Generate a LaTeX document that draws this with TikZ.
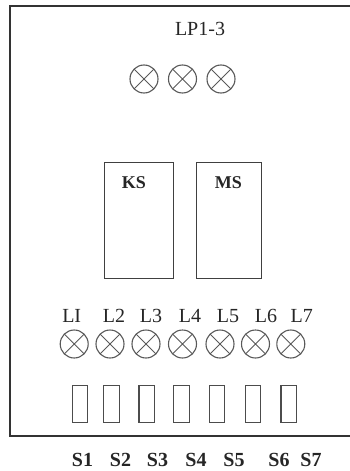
\documentclass[tikz,border=0pt]{standalone}
\usepackage{fontspec}
\setmainfont{Liberation Serif}
\begin{document}
\begin{tikzpicture}[x=1pt,y=-1pt,
  lamp/.style={circle,draw=black!65,line width=1.1pt,minimum size=28pt,inner sep=0pt,
    path picture={\draw[black!65,line width=0.9pt]
      (path picture bounding box.north west)--(path picture bounding box.south east)
      (path picture bounding box.north east)--(path picture bounding box.south west);}},
  switchbox/.style={rectangle,draw=black!70,line width=1.1pt,minimum width=15.5pt,minimum height=37pt,inner sep=0pt},
  unitbox/.style={rectangle,draw=black!75,line width=1pt,inner sep=0pt},
  lab/.style={anchor=base,inner sep=0pt,font=\fontsize{20}{24}\selectfont,text=black!85},
  blab/.style={lab,font=\fontsize{20}{24}\selectfont\bfseries},
  klab/.style={lab,font=\fontsize{18}{22}\selectfont\bfseries}]
\useasboundingbox (0,0) rectangle (350,471);
% outer frame (runs off the right edge)
\draw[black!80,line width=1.4pt] (360,6) -- (10,6) -- (10,436) -- (360,436);
% title
\node[lab] (title) at (200,35.7) {LP1-3};
% top lamps
\node[lamp] (lp1) at (144,79) {};
\node[lamp] (lp2) at (182.5,79) {};
\node[lamp] (lp3) at (221,79) {};
% KS and MS units
\node[unitbox,minimum width=69pt,minimum height=116pt] (ks) at (138.5,220) {};
\node[unitbox,minimum width=65pt,minimum height=116pt] (ms) at (228.5,220) {};
\node[klab] (kslab) at (133.8,188.3) {KS};
\node[klab] (mslab) at (228.3,188.3) {MS};
% lamp labels
\node[lab] (ll1) at (71.7,322.5) {LI};
\node[lab] (ll2) at (114,322.5) {L2};
\node[lab] (ll3) at (151,322.5) {L3};
\node[lab] (ll4) at (190,322.5) {L4};
\node[lab] (ll5) at (228,322.5) {L5};
\node[lab] (ll6) at (266,322.5) {L6};
\node[lab] (ll7) at (301.7,322.5) {L7};
% lamps
\node[lamp] (l1) at (74.2,344) {};
\node[lamp] (l2) at (110,344) {};
\node[lamp] (l3) at (146,344) {};
\node[lamp] (l4) at (182.5,344) {};
\node[lamp] (l5) at (220,344) {};
\node[lamp] (l6) at (255.5,344) {};
\node[lamp] (l7) at (290.8,344) {};
% switches
\node[switchbox] (sw1) at (80,404) {};
\node[switchbox] (sw2) at (111.3,404) {};
\node[switchbox] (sw3) at (146.7,404) {};
\node[switchbox] (sw4) at (181.3,404) {};
\node[switchbox] (sw5) at (216.8,404) {};
\node[switchbox] (sw6) at (252.8,404) {};
\node[switchbox] (sw7) at (288.7,404) {};
% switch labels
\node[blab] (sl1) at (82.5,466.7) {S1};
\node[blab] (sl2) at (120.5,466.7) {S2};
\node[blab] (sl3) at (157.5,466.7) {S3};
\node[blab] (sl4) at (196,466.7) {S4};
\node[blab] (sl5) at (234,466.7) {S5};
\node[blab] (sl6) at (279,466.7) {S6};
\node[blab] (sl7) at (311,466.7) {S7};
\end{tikzpicture}
\end{document}
